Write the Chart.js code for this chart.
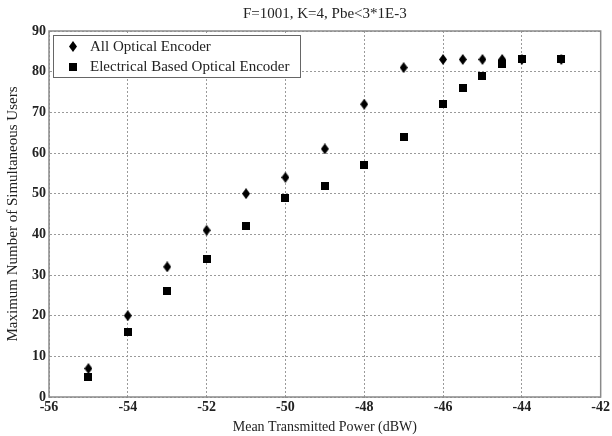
<!DOCTYPE html>
<html>
<head>
<meta charset="utf-8">
<script src="https://cdn.jsdelivr.net/npm/chart.js@4.4.1/dist/chart.umd.min.js"></script>
<style>
    html, body { margin: 0; padding: 0; background: #fff; }
    #wrap { width: 612px; height: 436px; }
</style>
</head>
<body>
<div id="wrap"><canvas id="chart" width="612" height="436"></canvas></div>
<script>
const powerLevels = [-55, -54, -53, -52, -51, -50, -49, -48, -47, -46, -45.5, -45, -44.5, -44, -43];
const allOpticalUsers = [7, 20, 32, 41, 50, 54, 61, 72, 81, 83, 83, 83, 83, 83, 83];
const electricalUsers = [5, 16, 26, 34, 42, 49, 52, 57, 64, 72, 76, 79, 82, 83, 83];
const seriesNames = ['All Optical Encoder', 'Electrical Based Optical Encoder'];
const titleText = 'F=1001, K=4, Pbe<3*1E-3';

const serif = "'Liberation Serif', 'DejaVu Serif', serif";

function makeDiamond(w, h) {
    const c = document.createElement('canvas');
    c.width = w;
    c.height = h;
    const g = c.getContext('2d');
    g.fillStyle = '#000';
    g.beginPath();
    g.moveTo(w / 2, 0);
    g.lineTo(w, h / 2);
    g.lineTo(w / 2, h);
    g.lineTo(0, h / 2);
    g.closePath();
    g.fill();
    return c;
}

function makeSquare(s) {
    const c = document.createElement('canvas');
    c.width = s;
    c.height = s;
    const g = c.getContext('2d');
    g.fillStyle = '#000';
    g.fillRect(0, 0, s, s);
    return c;
}

const diamond = makeDiamond(8, 11);
const square = makeSquare(8);

const toPoints = (ys) => powerLevels.map((x, i) => ({ x: x, y: ys[i] }));

// frame, title and in-plot legend, drawn like the matlab figure
const figurePlugin = {
    id: 'figure',
    afterDatasetsDraw(chart) {
        const { ctx, chartArea: a } = chart;
        ctx.save();
        ctx.strokeStyle = '#8a8a8a';
        ctx.lineWidth = 1.5;
        ctx.strokeRect(a.left, a.top, a.right - a.left, a.bottom - a.top);

        ctx.fillStyle = '#222';
        ctx.font = '15px ' + serif;
        ctx.textAlign = 'center';
        ctx.textBaseline = 'middle';
        ctx.fillText(titleText, (a.left + a.right) / 2, 14);

        // legend box
        const bx = 53, by = 35, bw = 247, bh = 42;
        ctx.fillStyle = '#fff';
        ctx.fillRect(bx, by, bw, bh);
        ctx.strokeStyle = '#666';
        ctx.lineWidth = 1;
        ctx.strokeRect(bx + 0.5, by + 0.5, bw, bh);

        const marks = [diamond, square];
        const rows = [46.5, 66.5];
        ctx.textAlign = 'left';
        ctx.fillStyle = '#222';
        ctx.font = '15px ' + serif;
        seriesNames.forEach((name, i) => {
            const m = marks[i];
            ctx.drawImage(m, 73 - m.width / 2, rows[i] - m.height / 2);
            ctx.fillText(name, 90, rows[i] + 1);
        });
        ctx.restore();
    }
};

const gridOpts = {
    color: '#9a9a9a',
    lineWidth: 1,
    tickLength: 0,
    borderDash: [2, 2]
};

new Chart(document.getElementById('chart'), {
    type: 'scatter',
    data: {
        datasets: [{
            label: seriesNames[0],
            data: toPoints(allOpticalUsers),
            pointStyle: diamond,
            backgroundColor: '#000',
            borderColor: '#000'
        }, {
            label: seriesNames[1],
            data: toPoints(electricalUsers),
            pointStyle: square,
            backgroundColor: '#000',
            borderColor: '#000'
        }]
    },
    options: {
        responsive: false,
        animation: false,
        layout: {
            padding: { top: 31, right: 8, left: 0, bottom: 0 }
        },
        plugins: {
            legend: { display: false },
            title: { display: false },
            tooltip: { enabled: false }
        },
        scales: {
            x: {
                type: 'linear',
                min: -56,
                max: -42,
                afterFit: (scale) => { scale.height = 39; },
                ticks: {
                    stepSize: 2,
                    color: '#222',
                    padding: 2,
                    font: { family: serif, size: 14, weight: 'bold' }
                },
                grid: gridOpts,
                border: { display: true, color: 'rgba(0,0,0,0)', dash: [2, 2] },
                title: {
                    display: true,
                    text: 'Mean Transmitted Power (dBW)',
                    color: '#222',
                    padding: { top: 0, bottom: 0 },
                    font: { family: serif, size: 14 }
                }
            },
            y: {
                min: 0,
                max: 90,
                afterFit: (scale) => { scale.width = 49; },
                ticks: {
                    stepSize: 10,
                    color: '#222',
                    padding: 3,
                    font: { family: serif, size: 14, weight: 'bold' }
                },
                grid: gridOpts,
                border: { display: true, color: 'rgba(0,0,0,0)', dash: [2, 2] },
                title: {
                    display: true,
                    text: 'Maximum Number of Simultaneous Users',
                    color: '#222',
                    padding: { top: 4, bottom: 0 },
                    font: { family: serif, size: 15 }
                }
            }
        }
    },
    plugins: [figurePlugin]
});
</script>
</body>
</html>
